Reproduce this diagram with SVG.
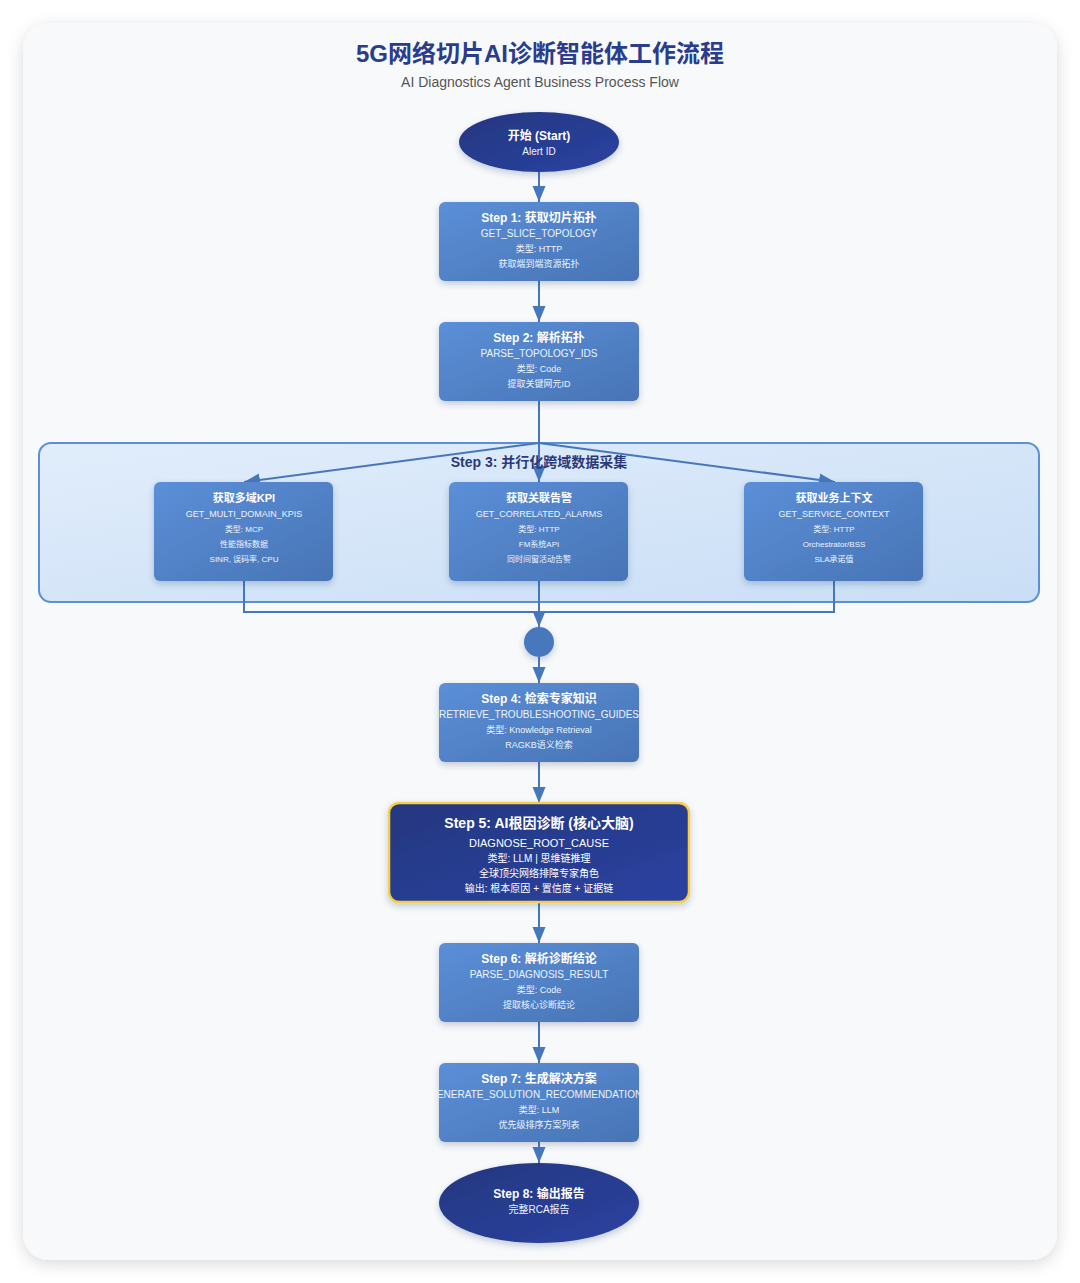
<svg xmlns="http://www.w3.org/2000/svg" width="1080" height="1283" viewBox="0 0 1080 1283">
<defs>
<linearGradient id="gBox" x1="0" y1="0" x2="1" y2="1"><stop offset="0" stop-color="#5b8fd8"/><stop offset="1" stop-color="#4874b5"/></linearGradient>
<linearGradient id="gNavy" x1="0" y1="0" x2="1" y2="1"><stop offset="0" stop-color="#25377f"/><stop offset="1" stop-color="#2a42a2"/></linearGradient>
<linearGradient id="gGroup" x1="0" y1="0" x2="1" y2="1"><stop offset="0" stop-color="#e1edfb"/><stop offset="1" stop-color="#c9def6"/></linearGradient>
<filter id="cardShadow" x="-10%" y="-10%" width="120%" height="120%"><feDropShadow dx="0" dy="4" stdDeviation="8" flood-color="#000" flood-opacity="0.15"/></filter>
<filter id="boxShadow" x="-20%" y="-20%" width="140%" height="150%"><feDropShadow dx="0" dy="3" stdDeviation="3" flood-color="#1e3a6a" flood-opacity="0.25"/></filter>
<marker id="arr" markerUnits="userSpaceOnUse" markerWidth="16" markerHeight="14" refX="16" refY="7" orient="auto"><path d="M0,0.5 L16,7 L0,13.5 z" fill="#4677bd"/></marker>
<clipPath id="c4"><rect x="439" y="683" width="200" height="80"/></clipPath>
<clipPath id="c7"><rect x="439" y="1063" width="200" height="80"/></clipPath>
<style>
text{font-family:"Liberation Sans","Noto Sans CJK SC",sans-serif;text-anchor:middle}
.ttl{font-size:24px;font-weight:bold;fill:#2a3c8c}
.sub{font-size:14px;fill:#555}
.box{fill:url(#gBox);filter:url(#boxShadow)}
.navy{fill:url(#gNavy);filter:url(#boxShadow)}
.h{font-size:12px;font-weight:bold;fill:#fff}
.c{font-size:10px;fill:#eef4fc}
.s{font-size:9px;fill:#eef4fc}
.sh{font-size:11px;font-weight:bold;fill:#fff}
.sc{font-size:9px;fill:#eef4fc}
.ss{font-size:8px;fill:#eef4fc}
.ln{stroke:#4677bd;stroke-width:2;fill:none}
</style>
</defs>
<rect x="23" y="23" width="1034" height="1237" rx="26" fill="#f8f9fb" filter="url(#cardShadow)"/>
<text class="ttl" x="540" y="62">5G网络切片AI诊断智能体工作流程</text>
<text class="sub" x="540" y="87">AI Diagnostics Agent Business Process Flow</text>

<g id="group-step3">
<rect x="39" y="443" width="1000" height="159" rx="12" fill="url(#gGroup)" stroke="#5b8fd8" stroke-width="2"/>
</g>

<g id="connectors">
<line class="ln" x1="539" y1="172" x2="539" y2="202" marker-end="url(#arr)"/>
<line class="ln" x1="539" y1="281" x2="539" y2="322" marker-end="url(#arr)"/>
<line class="ln" x1="539" y1="401" x2="539" y2="482" marker-end="url(#arr)"/>
<line class="ln" x1="539" y1="443" x2="244" y2="482" marker-end="url(#arr)"/>
<line class="ln" x1="539" y1="443" x2="835" y2="482" marker-end="url(#arr)"/>
<polyline class="ln" points="244,581 244,612 834,612 834,581"/>
<line class="ln" x1="539" y1="581" x2="539" y2="627" marker-end="url(#arr)"/>
<line class="ln" x1="539" y1="657" x2="539" y2="683" marker-end="url(#arr)"/>
<line class="ln" x1="539" y1="762" x2="539" y2="803" marker-end="url(#arr)"/>
<line class="ln" x1="539" y1="902" x2="539" y2="943" marker-end="url(#arr)"/>
<line class="ln" x1="539" y1="1022" x2="539" y2="1063" marker-end="url(#arr)"/>
<line class="ln" x1="539" y1="1142" x2="539" y2="1163" marker-end="url(#arr)"/>
</g>

<g id="label-step3"><text x="539" y="467" style="font-size:14px;font-weight:bold;fill:#2b3a7a">Step 3: 并行化跨域数据采集</text></g>

<g id="start">
<ellipse class="navy" cx="539" cy="142" rx="80" ry="30"/>
<text class="h" x="539" y="140">开始 (Start)</text>
<text class="c" x="539" y="155">Alert ID</text>
</g>

<g id="step1">
<rect class="box" x="439" y="202" width="200" height="79" rx="6"/>
<text class="h" x="539" y="222">Step 1: 获取切片拓扑</text>
<text class="c" x="539" y="237">GET_SLICE_TOPOLOGY</text>
<text class="s" x="539" y="252">类型: HTTP</text>
<text class="s" x="539" y="267">获取端到端资源拓扑</text>
</g>

<g id="step2">
<rect class="box" x="439" y="322" width="200" height="79" rx="6"/>
<text class="h" x="539" y="342">Step 2: 解析拓扑</text>
<text class="c" x="539" y="357">PARSE_TOPOLOGY_IDS</text>
<text class="s" x="539" y="372">类型: Code</text>
<text class="s" x="539" y="387">提取关键网元ID</text>
</g>

<g id="kpi">
<rect class="box" x="154" y="482" width="179" height="99" rx="6"/>
<text class="sh" x="244" y="502">获取多域KPI</text>
<text class="sc" x="244" y="517">GET_MULTI_DOMAIN_KPIS</text>
<text class="ss" x="244" y="532">类型: MCP</text>
<text class="ss" x="244" y="547">性能指标数据</text>
<text class="ss" x="244" y="562">SINR, 误码率, CPU</text>
</g>

<g id="alarms">
<rect class="box" x="449" y="482" width="179" height="99" rx="6"/>
<text class="sh" x="539" y="502">获取关联告警</text>
<text class="sc" x="539" y="517">GET_CORRELATED_ALARMS</text>
<text class="ss" x="539" y="532">类型: HTTP</text>
<text class="ss" x="539" y="547">FM系统API</text>
<text class="ss" x="539" y="562">同时间窗活动告警</text>
</g>

<g id="context">
<rect class="box" x="744" y="482" width="179" height="99" rx="6"/>
<text class="sh" x="834" y="502">获取业务上下文</text>
<text class="sc" x="834" y="517">GET_SERVICE_CONTEXT</text>
<text class="ss" x="834" y="532">类型: HTTP</text>
<text class="ss" x="834" y="547">Orchestrator/BSS</text>
<text class="ss" x="834" y="562">SLA承诺值</text>
</g>

<g id="join">
<circle cx="539" cy="642" r="15" fill="#4677bd" filter="url(#boxShadow)"/>
</g>

<g id="step4">
<rect class="box" x="439" y="683" width="200" height="79" rx="6"/>
<g clip-path="url(#c4)">
<text class="h" x="539" y="703">Step 4: 检索专家知识</text>
<text class="c" x="539" y="718">RETRIEVE_TROUBLESHOOTING_GUIDES</text>
<text class="s" x="539" y="733">类型: Knowledge Retrieval</text>
<text class="s" x="539" y="748">RAGKB语义检索</text>
</g>
</g>

<g id="step5">
<rect x="389" y="803" width="300" height="99" rx="10" fill="url(#gNavy)" stroke="#f5cf47" stroke-width="2.5" filter="url(#boxShadow)"/>
<text x="539" y="828" style="font-size:14px;font-weight:bold;fill:#fff">Step 5: AI根因诊断 (核心大脑)</text>
<text x="539" y="847" style="font-size:11px;fill:#fff">DIAGNOSE_ROOT_CAUSE</text>
<text x="539" y="862" style="font-size:10px;fill:#fff">类型: LLM | 思维链推理</text>
<text x="539" y="877" style="font-size:10px;fill:#fff">全球顶尖网络排障专家角色</text>
<text x="539" y="892" style="font-size:10px;fill:#fff">输出: 根本原因 + 置信度 + 证据链</text>
</g>

<g id="step6">
<rect class="box" x="439" y="943" width="200" height="79" rx="6"/>
<text class="h" x="539" y="963">Step 6: 解析诊断结论</text>
<text class="c" x="539" y="978">PARSE_DIAGNOSIS_RESULT</text>
<text class="s" x="539" y="993">类型: Code</text>
<text class="s" x="539" y="1008">提取核心诊断结论</text>
</g>

<g id="step7">
<rect class="box" x="439" y="1063" width="200" height="79" rx="6"/>
<g clip-path="url(#c7)">
<text class="h" x="539" y="1083">Step 7: 生成解决方案</text>
<text class="c" x="539" y="1098">GENERATE_SOLUTION_RECOMMENDATIONS</text>
<text class="s" x="539" y="1113">类型: LLM</text>
<text class="s" x="539" y="1128">优先级排序方案列表</text>
</g>
</g>

<g id="step8">
<ellipse class="navy" cx="539" cy="1203" rx="100" ry="40"/>
<text class="h" x="539" y="1198">Step 8: 输出报告</text>
<text class="c" x="539" y="1213">完整RCA报告</text>
</g>
</svg>
